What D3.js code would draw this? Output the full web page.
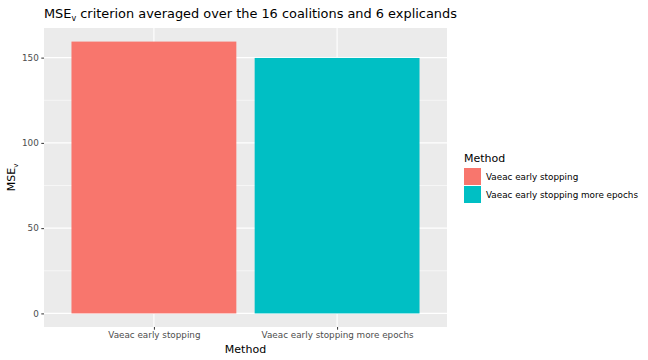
<!DOCTYPE html>
<html><head><meta charset="utf-8">
<script src="https://cdn.jsdelivr.net/npm/d3@7"></script>
<style>body{margin:0;background:#fff}text{font-family:"DejaVu Sans",sans-serif}</style>
</head><body><svg id="c" width="648" height="360"></svg>
<script>
const categories = ["Vaeac early stopping", "Vaeac early stopping more epochs"];
const values = [159.4, 149.8];
const colors = ["#F8766D", "#00BFC4"];
const yTicks = [0, 50, 100, 150];
const yMinor = [25, 75, 125];

const svg = d3.select("#c");
const L = 44, R = 447, T = 28, B = 327;
const vmax = d3.max(values);
const y = d3.scaleLinear().domain([-0.05*vmax, 1.05*vmax]).range([B, T]);
const xc = d3.scalePoint().domain(categories).range([L + (R-L)*0.6/2.2, R - (R-L)*0.6/2.2]);
const step = (R-L)/2.2;
const bw = step*0.9;

svg.append("rect").attr("x",L).attr("y",T).attr("width",R-L).attr("height",B-T).attr("fill","#EBEBEB");
svg.selectAll(".mi").data(yMinor).enter().append("line")
  .attr("x1",L).attr("x2",R).attr("y1",d=>y(d)).attr("y2",d=>y(d)).attr("stroke","#fff").attr("stroke-width",0.55);
svg.selectAll(".ma").data(yTicks).enter().append("line")
  .attr("x1",L).attr("x2",R).attr("y1",d=>y(d)).attr("y2",d=>y(d)).attr("stroke","#fff").attr("stroke-width",1.1);
svg.selectAll(".mx").data(categories).enter().append("line")
  .attr("y1",T).attr("y2",B).attr("x1",d=>xc(d)).attr("x2",d=>xc(d)).attr("stroke","#fff").attr("stroke-width",1.1);

svg.selectAll(".bar").data(categories).enter().append("rect")
  .attr("x",d=>xc(d)-bw/2).attr("width",bw)
  .attr("y",(d,i)=>y(values[i])).attr("height",(d,i)=>y(0)-y(values[i]))
  .attr("fill",(d,i)=>colors[i]);

// y axis
const ya = svg.append("g").attr("transform",`translate(${L},0)`)
  .call(d3.axisLeft(y).tickValues(yTicks).tickSize(2.7).tickPadding(2.5));
ya.select(".domain").remove();
ya.selectAll("line").attr("stroke","#333");
ya.selectAll("text").attr("fill","#4D4D4D").style("font-size","8.8px");

const xa = svg.append("g").attr("transform",`translate(0,${B})`)
  .call(d3.axisBottom(xc).tickSize(2.7).tickPadding(2.5));
xa.select(".domain").remove();
xa.selectAll("line").attr("stroke","#333");
xa.selectAll("text").attr("fill","#4D4D4D").style("font-size","8.8px");

// titles
const t = svg.append("text").attr("x",L).attr("y",18).attr("fill","#000").style("font-size","12.9px");
t.append("tspan").text("MSE");
t.append("tspan").attr("dy",3).style("font-size","8px").text("v");
t.append("tspan").attr("dy",-3).text(" criterion averaged over the 16 coalitions and 6 explicands");

svg.append("text").attr("x",(L+R)/2).attr("y",353).attr("text-anchor","middle").style("font-size","11px").text("Method");
const yt = svg.append("text").attr("transform",`translate(15,${(T+B)/2}) rotate(-90)`).attr("text-anchor","middle").style("font-size","11px");
yt.append("tspan").text("MSE");
yt.append("tspan").attr("dy",2.5).style("font-size","7px").text("v");

// legend
const lg = svg.append("g").attr("transform","translate(464,0)");
lg.append("text").attr("x",0).attr("y",162).style("font-size","11px").text("Method");
categories.forEach((c,i)=>{
  lg.append("rect").attr("x",0).attr("y",168+i*18).attr("width",17).attr("height",17).attr("fill",colors[i]);
  lg.append("text").attr("x",22).attr("y",180+i*18).style("font-size","8.8px").text(c);
});
</script></body></html>
